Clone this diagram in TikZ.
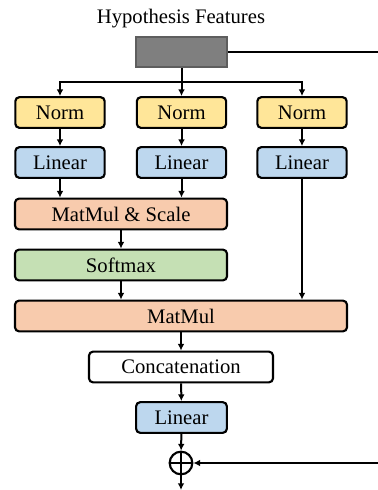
\documentclass[tikz,border=0pt]{standalone}
\usepackage{fontspec}
\setmainfont{Liberation Serif}
\usepackage{tikz}
\usetikzlibrary{arrows.meta}

\definecolor{hypgray}{HTML}{7F7F7F}
\definecolor{hypedge}{HTML}{5E5E5E}
\definecolor{normyellow}{HTML}{FFE699}
\definecolor{linblue}{HTML}{BDD7EE}
\definecolor{mulorange}{HTML}{F8CBAD}
\definecolor{softgreen}{HTML}{C5E0B4}

\begin{document}
\begin{tikzpicture}[x=0.75pt, y=-0.75pt,
    block/.style={draw, line width=1.6pt, rounded corners=3pt, minimum height=23pt, inner sep=0pt, font=\fontsize{15.5}{18}\selectfont},
    arr/.style={draw, line width=1.5pt, -{Latex[length=5pt,width=5pt]}},
    ln/.style={draw, line width=1.5pt}]
    \useasboundingbox (0,0) rectangle (378,490);

    \node[font=\fontsize{15.5}{18}\selectfont] (title) at (181,19) {Hypothesis Features};
    \node[draw=hypedge, fill=hypgray, line width=1.6pt, minimum width=68pt, minimum height=23pt] (hyp) at (181.5,52) {};

    \node[block, fill=normyellow, minimum width=67pt] (normone) at (60,112.5) {Norm};
    \node[block, fill=normyellow, minimum width=67pt] (normtwo) at (181.5,112.5) {Norm};
    \node[block, fill=normyellow, minimum width=67pt] (normthree) at (302,112.5) {Norm};

    \node[block, fill=linblue, minimum width=67pt] (linone) at (60,162.5) {Linear};
    \node[block, fill=linblue, minimum width=67pt] (lintwo) at (181.5,162.5) {Linear};
    \node[block, fill=linblue, minimum width=67pt] (linthree) at (302,162.5) {Linear};

    \node[block, fill=mulorange, minimum width=159pt] (scale) at (121,214) {MatMul \& Scale};
    \node[block, fill=softgreen, minimum width=159pt] (soft) at (121,265) {Softmax};
    \node[block, fill=mulorange, minimum width=249pt] (mul) at (181,316) {MatMul};
    \node[block, fill=white, minimum width=138pt] (cat) at (181,367) {Concatenation};
    \node[block, fill=linblue, minimum width=68pt] (linout) at (181.5,417.5) {Linear};

    \node[draw, circle, line width=1.6pt, minimum size=17pt, inner sep=0pt] (add) at (181,463) {};
    \draw[line width=1.6pt] (add.north) -- (add.south) (add.west) -- (add.east);

    \coordinate (split) at (181.5,82);
    \coordinate (skiptop) at (378,52);
    \coordinate (skipin) at (378,463);
    \coordinate (out) at (181,490);

    \draw[ln] (hyp) -- (skiptop);
    \draw[ln] (hyp) -- (split);
    \draw[arr] (split) -| (normone);
    \draw[arr] (split) -- (normtwo);
    \draw[arr] (split) -| (normthree);

    \draw[arr] (normone) -- (linone);
    \draw[arr] (normtwo) -- (lintwo);
    \draw[arr] (normthree) -- (linthree);

    \draw[arr] (linone) -- (linone |- scale.north);
    \draw[arr] (lintwo) -- (lintwo |- scale.north);
    \draw[arr] (linthree) -- (linthree |- mul.north);
    \draw[arr] (scale) -- (soft);
    \draw[arr] (soft) -- (soft |- mul.north);
    \draw[arr] (mul) -- (cat);
    \draw[arr] (cat) -- (linout);
    \draw[arr] (linout) -- (add);
    \draw[arr] (skipin) -- (add);
    \draw[arr] (add) -- (out);
\end{tikzpicture}
\end{document}
